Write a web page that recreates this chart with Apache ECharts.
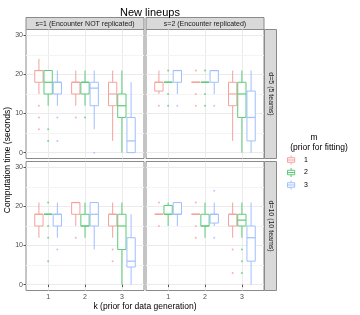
<!DOCTYPE html>
<html><head><meta charset="utf-8">
<script src="https://cdn.jsdelivr.net/npm/echarts@6/dist/echarts.min.js"></script>
<style>html,body{margin:0;padding:0;background:#fff}#c{width:360px;height:315px}</style>
</head><body><div id="c"></div>
<script>
// ---- data ----
const kCategories = [1, 2, 3];
const mLevels = ['1', '2', '3'];
const yTicks = [0, 10, 20, 30];
const yMinorTicks = [5, 15, 25];
const facetCols = ['s=1 (Encounter NOT replicated)', 's=2 (Encounter replicated)'];
const facetRows = ['d=5 (5 teams)', 'd=10 (10 teams)'];

// each entry: [lower whisker, q1, median, q3, upper whisker] for k = 1, 2, 3
const box_s1_d5_m1 = [[15, 18, 21, 21, 24], [12, 15, 18, 18, 21], [3, 12, 15, 18, 21]];
const box_s1_d5_m2 = [[12, 15, 18, 21, 21], [12, 15, 18, 18, 21], [0, 9, 12, 15, 21]];
const box_s1_d5_m3 = [[12, 15, 18, 18, 21], [6, 12, 16.5, 18, 21], [0, 0, 3, 9, 18]];
const box_s2_d5_m1 = [[15, 15.75, 18, 18, 21], [18, 18, 18, 18, 18], [3, 12, 15, 18, 21]];
const box_s2_d5_m2 = [[18, 18, 18, 18, 18], [18, 18, 18, 18, 18], [0, 9, 15, 18, 21]];
const box_s2_d5_m3 = [[15, 18, 21, 21, 21], [15, 18, 21, 21, 21], [0, 3, 9, 15.75, 21]];
const box_s1_d10_m1 = [[12, 15, 18, 18, 21], [15, 18, 21, 21, 21], [12, 15, 18, 18, 21]];
const box_s1_d10_m2 = [[18, 18, 18, 18, 18], [12, 15, 15, 18, 21], [0, 9, 15, 18, 21]];
const box_s1_d10_m3 = [[12, 15, 18, 18, 21], [9, 15, 18, 21, 21], [0, 4.5, 6, 12, 18]];
const box_s2_d10_m1 = [[18, 18, 18, 18, 18], [18, 18, 18, 18, 18], [12, 15, 18, 18, 21]];
const box_s2_d10_m2 = [[15, 18, 18, 20.25, 21], [12, 15, 15, 18, 21], [12, 15, 16.5, 18, 21]];
const box_s2_d10_m3 = [[15, 18, 18, 21, 21], [15, 15.75, 18, 18, 21], [0, 6, 12, 15, 21]];

// outliers for k = 1, 2, 3
const out_s1_d5_m1 = [[12, 9, 6], [9], []];
const out_s1_d5_m2 = [[6, 3], [9], []];
const out_s1_d5_m3 = [[9, 3], [0], []];
const out_s2_d5_m1 = [[12], [21, 15, 12], []];
const out_s2_d5_m2 = [[21, 15, 12], [21, 15, 12], []];
const out_s2_d5_m3 = [[12], [12], []];
const out_s1_d10_m1 = [[], [12], [9, 6]];
const out_s1_d10_m2 = [[21, 15, 12, 6], [], []];
const out_s1_d10_m3 = [[9], [], []];
const out_s2_d10_m1 = [[21, 15], [21, 15, 12], [9, 3]];
const out_s2_d10_m2 = [[], [], [9, 6, 3]];
const out_s2_d10_m3 = [[], [24, 12], []];

// ---- layout / style ----
const colors = ['#F5A29D', '#5CCB79', '#9FBFFF'];
const FONT = 'Liberation Sans';
const colLeft = [26, 146], colW = 118;
const rowTop = [29.5, 161.5], rowH = 129;
const dodge = 0.25, boxW = 0.225;

const panels = [
  {r: 0, c: 0, boxes: [box_s1_d5_m1, box_s1_d5_m2, box_s1_d5_m3], outs: [out_s1_d5_m1, out_s1_d5_m2, out_s1_d5_m3]},
  {r: 0, c: 1, boxes: [box_s2_d5_m1, box_s2_d5_m2, box_s2_d5_m3], outs: [out_s2_d5_m1, out_s2_d5_m2, out_s2_d5_m3]},
  {r: 1, c: 0, boxes: [box_s1_d10_m1, box_s1_d10_m2, box_s1_d10_m3], outs: [out_s1_d10_m1, out_s1_d10_m2, out_s1_d10_m3]},
  {r: 1, c: 1, boxes: [box_s2_d10_m1, box_s2_d10_m2, box_s2_d10_m3], outs: [out_s2_d10_m1, out_s2_d10_m2, out_s2_d10_m3]}
];

const grid = [], xAxis = [], yAxis = [], series = [];
panels.forEach((p, gi) => {
  grid.push({left: colLeft[p.c], top: rowTop[p.r], width: colW, height: rowH,
    show: true, backgroundColor: '#fff', borderColor: '#8a8a8a', borderWidth: 1, z: 0});
  xAxis.push({type: 'value', gridIndex: gi, min: 0.4, max: 3.6,
    axisLine: {show: false},
    axisTick: {show: p.r === 1, length: 2.5, lineStyle: {color: '#555'}, customValues: kCategories},
    axisLabel: {show: p.r === 1, customValues: kCategories, fontSize: 7, color: '#4D4D4D', margin: 3, fontFamily: FONT},
    splitLine: {show: true, lineStyle: {color: '#EBEBEB', width: 1}}
  });
  yAxis.push({type: 'value', gridIndex: gi, min: -1.5, max: 31.5,
    axisLine: {show: false},
    axisTick: {show: p.c === 0, length: 2.5, lineStyle: {color: '#555'}, customValues: yTicks},
    axisLabel: {show: p.c === 0, customValues: yTicks, fontSize: 7, color: '#4D4D4D', margin: 3, fontFamily: FONT},
    splitLine: {show: true, lineStyle: {color: '#EBEBEB', width: 1}}
  });
  mLevels.forEach((m, mi) => {
    const data = p.boxes[mi].map((b, ki) => [kCategories[ki] + (mi - 1) * dodge].concat(b));
    series.push({
      type: 'custom', name: m, xAxisIndex: gi, yAxisIndex: gi, z: 3,
      itemStyle: {color: colors[mi]},
      encode: {x: 0, y: [1, 2, 3, 4, 5]},
      data: data,
      markLine: mi === 0 ? {silent: true, symbol: 'none', label: {show: false},
        lineStyle: {color: '#F4F4F4', width: 1, type: 'solid'},
        data: yMinorTicks.map(v => ({yAxis: v})), z: 1} : undefined,
      renderItem: (params, api) => {
        const x = api.value(0);
        const lo = api.coord([x, api.value(1)]);
        const q1 = api.coord([x, api.value(2)]);
        const md = api.coord([x, api.value(3)]);
        const q3 = api.coord([x, api.value(4)]);
        const hi = api.coord([x, api.value(5)]);
        const hw = api.size([boxW, 0])[0] / 2;
        const st = {stroke: colors[mi], lineWidth: 1, fill: null};
        return {type: 'group', children: [
          {type: 'line', shape: {x1: lo[0], y1: lo[1], x2: q1[0], y2: q1[1]}, style: st},
          {type: 'line', shape: {x1: q3[0], y1: q3[1], x2: hi[0], y2: hi[1]}, style: st},
          {type: 'rect', shape: {x: q3[0] - hw, y: q3[1], width: 2 * hw, height: Math.max(q1[1] - q3[1], 0)}, style: {stroke: colors[mi], lineWidth: 1, fill: '#fff'}},
          {type: 'line', shape: {x1: md[0] - hw, y1: md[1], x2: md[0] + hw, y2: md[1]}, style: {stroke: colors[mi], lineWidth: 1.2}}
        ]};
      }
    });
    const pts = [];
    p.outs[mi].forEach((arr, ki) => arr.forEach(v => pts.push([kCategories[ki] + (mi - 1) * dodge, v])));
    series.push({type: 'scatter', name: m, xAxisIndex: gi, yAxisIndex: gi, z: 4,
      symbol: 'circle', symbolSize: 2, itemStyle: {color: colors[mi]}, data: pts, silent: true});
  });
});

const graphic = [];
facetCols.forEach((t, c) => {
  graphic.push({type: 'rect', shape: {x: colLeft[c], y: 17.5, width: colW, height: 12},
    style: {fill: '#D9D9D9', stroke: '#8a8a8a', lineWidth: 1}, silent: true});
  graphic.push({type: 'text', x: colLeft[c] + colW / 2, y: 23.7,
    style: {text: t, fontSize: 7, fill: '#1A1A1A', align: 'center', verticalAlign: 'middle', fontFamily: FONT}, silent: true});
});
facetRows.forEach((t, r) => {
  graphic.push({type: 'rect', shape: {x: 264.5, y: rowTop[r], width: 12, height: rowH},
    style: {fill: '#D9D9D9', stroke: '#8a8a8a', lineWidth: 1}, silent: true});
  graphic.push({type: 'text', x: 270.5, y: rowTop[r] + rowH / 2, rotation: -Math.PI / 2,
    style: {text: t, fontSize: 7, fill: '#1A1A1A', align: 'center', verticalAlign: 'middle', fontFamily: FONT}, silent: true});
});
graphic.push({type: 'text', x: 8, y: 160, rotation: Math.PI / 2,
  style: {text: 'Computation time (seconds)', fontSize: 8.5, fill: '#000', align: 'center', verticalAlign: 'middle', fontFamily: FONT}, silent: true});
graphic.push({type: 'text', x: 145, y: 306.5,
  style: {text: 'k (prior for data generation)', fontSize: 8.5, fill: '#000', align: 'center', verticalAlign: 'middle', fontFamily: FONT}, silent: true});
graphic.push({type: 'text', x: 314, y: 137.5,
  style: {text: 'm', fontSize: 8.5, fill: '#000', align: 'center', verticalAlign: 'middle', fontFamily: FONT}, silent: true});
graphic.push({type: 'text', x: 319, y: 147.8,
  style: {text: '(prior for fitting)', fontSize: 8.5, fill: '#000', align: 'center', verticalAlign: 'middle', fontFamily: FONT}, silent: true});

const boxIcon = 'path://M5,0V2.5M5,7.5V10M1,2.5H9V7.5H1ZM1,5H9';

const option = {
  animation: false,
  title: {text: 'New lineups', left: 145, top: 2, textAlign: 'center',
    textStyle: {fontSize: 11, fontWeight: 'normal', color: '#000', fontFamily: FONT}},
  grid, xAxis, yAxis, series, graphic,
  legend: {orient: 'vertical', left: 287, top: 155, padding: 0, itemWidth: 10, itemHeight: 9, itemGap: 2.5,
    textStyle: {fontSize: 7, color: '#000', fontFamily: FONT, padding: [0, 0, 0, 3]},
    data: mLevels.map((m, i) => ({name: m, icon: boxIcon,
      itemStyle: {color: 'rgba(0,0,0,0)', borderColor: colors[i], borderWidth: 1}}))}
};
const chart = echarts.init(document.getElementById('c'), null, {renderer: 'canvas'});
chart.setOption(option);
</script></body></html>
